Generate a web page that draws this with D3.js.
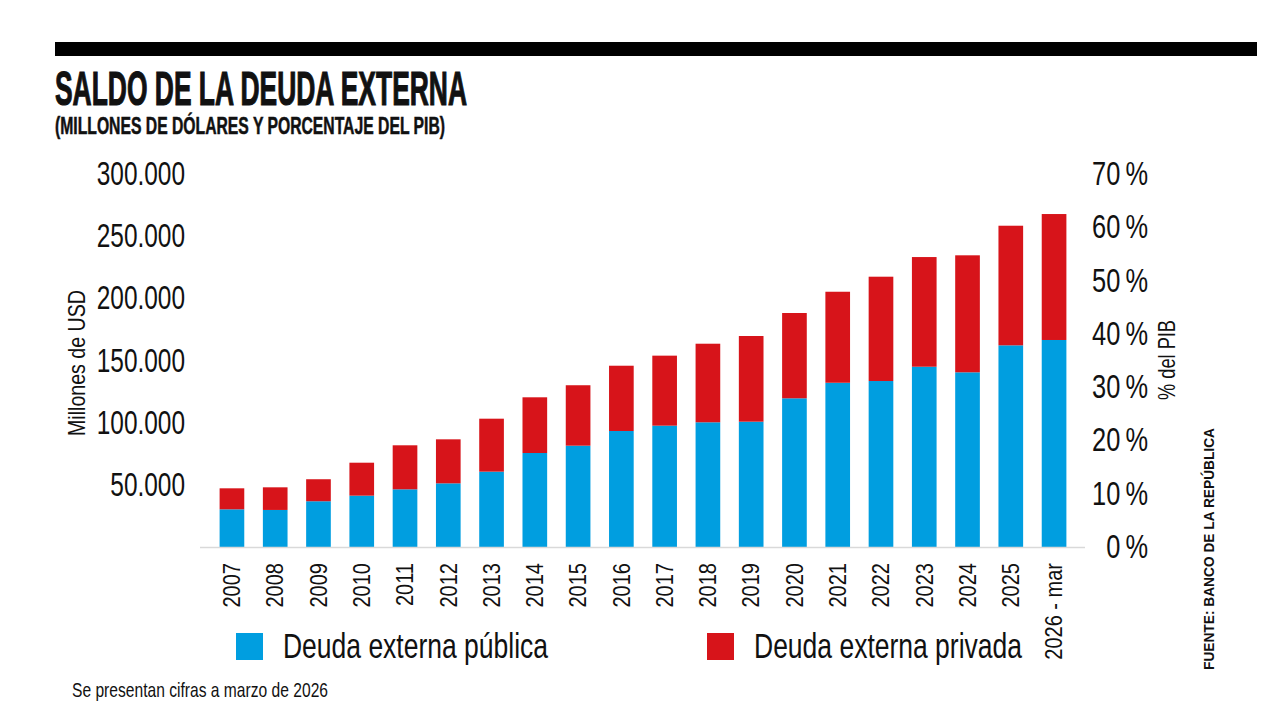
<!DOCTYPE html>
<html>
<head>
<meta charset="utf-8">
<script src="https://cdn.jsdelivr.net/npm/d3@7"></script>
<style>
  body { margin: 0; background: #fff; }
  text { font-family: "Liberation Sans", Arial, sans-serif; fill: #111; }
</style>
</head>
<body>
<div class="chart"></div>
<script>
let width = 1280
let height = 720

// years on the x axis
let years = ['2007', '2008', '2009', '2010', '2011', '2012', '2013', '2014', '2015', '2016',
    '2017', '2018', '2019', '2020', '2021', '2022', '2023', '2024', '2025', '2026 - mar']
// millones de USD
let publica = [30.3, 29.8, 36.8, 41.3, 46.4, 51.2, 60.6, 75.6, 81.5, 93.3,
    97.6, 100.3, 100.8, 119.6, 132.1, 133.5, 145.0, 140.5, 162.2, 166.5].map(d => d * 1000)
let privada = [16.9, 18.2, 17.7, 26.5, 35.4, 35.4, 42.6, 44.8, 48.6, 52.5,
    56.3, 63.2, 68.9, 68.6, 73.2, 83.9, 88.2, 94.1, 96.2, 101.3].map(d => d * 1000)
let leftTicks = [50000, 100000, 150000, 200000, 250000, 300000]
let rightTicks = [0, 10, 20, 30, 40, 50, 60, 70]
let seriesNames = ['Deuda externa pública', 'Deuda externa privada']
let colors = ['#009ee0', '#d7141a']

let svg = d3.select('div.chart')
    .append('svg')
    .attr('width', width)
    .attr('height', height)

// squeeze text horizontally, the original uses a condensed face
function squeeze(sel, k) {
    sel.each(function() {
        let len = this.getComputedTextLength()
        d3.select(this).attr('textLength', len * k).attr('lengthAdjust', 'spacingAndGlyphs')
    })
}

let x = d3.scaleBand().domain(years).range([201, 1085]).padding(0.43)
let y = d3.scaleLinear().domain([0, 300000]).range([547, 174])
let yPct = d3.scaleLinear().domain([0, 70]).range([547, 174])

// header
svg.append('rect')
    .attr('x', 55).attr('y', 42)
    .attr('width', 1202).attr('height', 14)
    .style('fill', '#000')

svg.append('text')
    .attr('x', 55).attr('y', 105)
    .style('font-size', '49px').style('font-weight', 'bold')
    .style('stroke', '#111').style('stroke-width', 1.2)
    .attr('textLength', 412).attr('lengthAdjust', 'spacingAndGlyphs')
    .text('SALDO DE LA DEUDA EXTERNA')

svg.append('text')
    .attr('x', 55).attr('y', 134)
    .style('font-size', '23px').style('font-weight', 'bold')
    .style('stroke', '#111').style('stroke-width', 0.5)
    .attr('textLength', 390).attr('lengthAdjust', 'spacingAndGlyphs')
    .text('(MILLONES DE DÓLARES Y PORCENTAJE DEL PIB)')

// stacked bars
let rows = years.map((yr, i) => ({ year: yr, publica: publica[i], privada: privada[i] }))
let stack = d3.stack().keys(['publica', 'privada'])(rows)

svg.append('g')
    .selectAll('g')
    .data(stack)
    .enter()
    .append('g')
    .style('fill', (d, i) => colors[i])
    .selectAll('rect')
    .data(d => d)
    .enter()
    .append('rect')
    .attr('x', d => x(d.data.year))
    .attr('width', x.bandwidth())
    .attr('y', d => y(d[1]))
    .attr('height', d => y(d[0]) - y(d[1]))

// baseline
svg.append('line')
    .attr('x1', 200).attr('x2', 1085)
    .attr('y1', 547.5).attr('y2', 547.5)
    .style('stroke', '#d9d9d9').style('stroke-width', 1.5)

// x axis
let xAxis = svg.append('g')
    .attr('transform', 'translate(0,547)')
    .call(d3.axisBottom(x).tickSize(0))
xAxis.select('.domain').remove()
xAxis.selectAll('text')
    .attr('transform', 'rotate(-90)')
    .attr('x', -16).attr('y', 0).attr('dy', '0.36em')
    .style('text-anchor', 'end')
    .style('font-size', '23px')
    .style('font-family', '"Liberation Sans", Arial, sans-serif')
    .style('fill', '#111')
squeeze(xAxis.selectAll('text'), 0.87)

// left axis
let locale = d3.formatLocale({ decimal: ',', thousands: '.', grouping: [3], currency: ['$', ''] })
let leftAxis = svg.append('g')
    .attr('transform', 'translate(190,0)')
    .call(d3.axisLeft(y).tickValues(leftTicks).tickSize(0).tickPadding(5).tickFormat(locale.format(',')))
leftAxis.select('.domain').remove()
leftAxis.selectAll('text')
    .style('font-size', '33px')
    .style('font-family', '"Liberation Sans", Arial, sans-serif')
    .style('fill', '#111')
squeeze(leftAxis.selectAll('text'), 0.74)

// right axis
let rightAxis = svg.append('g')
    .attr('transform', 'translate(1148,0)')
    .call(d3.axisRight(yPct).tickValues(rightTicks).tickSize(0).tickPadding(0).tickFormat(d => d + '\u2009%'))
rightAxis.select('.domain').remove()
rightAxis.selectAll('text')
    .attr('x', 0)
    .style('text-anchor', 'end')
    .style('font-size', '33px')
    .style('font-family', '"Liberation Sans", Arial, sans-serif')
    .style('fill', '#111')
squeeze(rightAxis.selectAll('text'), 0.77)

// axis titles
svg.append('text')
    .attr('transform', 'translate(77,363) rotate(-90)')
    .attr('dy', '0.35em')
    .style('text-anchor', 'middle')
    .style('font-size', '24px')
    .attr('textLength', 146).attr('lengthAdjust', 'spacingAndGlyphs')
    .text('Millones de USD')

svg.append('text')
    .attr('transform', 'translate(1167,360) rotate(-90)')
    .attr('dy', '0.35em')
    .style('text-anchor', 'middle')
    .style('font-size', '24px')
    .attr('textLength', 80).attr('lengthAdjust', 'spacingAndGlyphs')
    .text('% del PIB')

svg.append('text')
    .attr('transform', 'translate(1209,549) rotate(-90)')
    .attr('dy', '0.35em')
    .style('text-anchor', 'middle')
    .style('font-size', '15px').style('font-weight', 'bold')
    .attr('textLength', 242).attr('lengthAdjust', 'spacingAndGlyphs')
    .text('FUENTE: BANCO DE LA REPÚBLICA')

// legend
let legendX = [236, 707]
let legendW = [265, 268]
let legend = svg.append('g')
    .selectAll('g')
    .data(seriesNames)
    .enter()
    .append('g')
    .attr('transform', (d, i) => 'translate(' + legendX[i] + ',633)')
legend.append('rect')
    .attr('width', 27).attr('height', 27)
    .style('fill', (d, i) => colors[i])
legend.append('text')
    .attr('x', 47).attr('y', 25)
    .style('font-size', '35px')
    .attr('textLength', (d, i) => legendW[i]).attr('lengthAdjust', 'spacingAndGlyphs')
    .text(d => d)

// note
svg.append('text')
    .attr('x', 72).attr('y', 697)
    .style('font-size', '21px')
    .attr('textLength', 256).attr('lengthAdjust', 'spacingAndGlyphs')
    .text('Se presentan cifras a marzo de 2026')
</script>
</body>
</html>
